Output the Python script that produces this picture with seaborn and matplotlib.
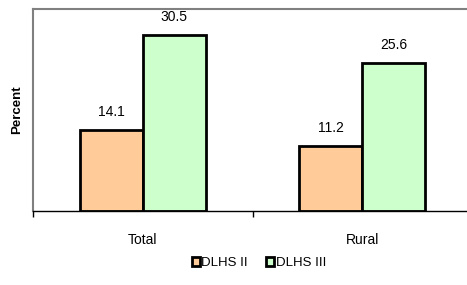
import pandas as pd
import matplotlib
matplotlib.use('Agg')
import matplotlib.pyplot as plt
import seaborn as sns
from matplotlib.patches import Patch

# Dados
areas = ['Total', 'Rural']
surveys = ['DLHS II', 'DLHS III']
dlhs2 = [14.1, 11.2]
dlhs3 = [30.5, 25.6]
colors = ['#FFCC99', '#CCFFCC']

df = pd.DataFrame({
    'area': areas * 2,
    'survey': [surveys[0]] * len(areas) + [surveys[1]] * len(areas),
    'pct': dlhs2 + dlhs3,
})

sns.set_style('white')
plt.rcParams['font.family'] = ['Liberation Sans', 'DejaVu Sans']
plt.rcParams['text.color'] = 'black'
plt.rcParams['axes.labelcolor'] = 'black'
plt.rcParams['xtick.color'] = 'black'

fig = plt.figure(figsize=(4.67, 2.85), dpi=100)
ax = fig.add_axes([33 / 467, 74 / 285, 439 / 467, 202 / 285])

sns.barplot(data=df, x='area', y='pct', hue='survey', palette=colors,
            width=0.573, gap=0, edgecolor='black', linewidth=2,
            saturation=1, legend=False, ax=ax)

ax.set_xlim(-0.5, 1.5)
ax.set_ylim(0, 35)
ax.set_yticks([])
ax.set_xlabel('')
ax.set_ylabel('Percent', fontsize=9.5, fontweight='bold', labelpad=7)

# rótulos nas barras
for container in ax.containers:
    ax.bar_label(container, fmt='%.1f', padding=8, fontsize=10, color='black')

# ticks
ax.set_xticks([0, 1])
ax.set_xticklabels(areas, fontsize=10)
ax.tick_params(axis='x', which='major', length=0, pad=16)
ax.set_xticks([-0.5, 0.5, 1.5], minor=True)
ax.tick_params(axis='x', which='minor', bottom=True, length=4, width=1,
               color='black', direction='out')

for side in ['left', 'top', 'right']:
    ax.spines[side].set_color('#808080')
    ax.spines[side].set_linewidth(1.5)
ax.spines['bottom'].set_color('black')
ax.spines['bottom'].set_linewidth(1)

handles = [Patch(facecolor=c, edgecolor='black', linewidth=2) for c in colors]
fig.legend(handles, surveys, loc='center', bbox_to_anchor=(259 / 467, 22 / 285),
           ncol=2, frameon=False, fontsize=9.5, handlelength=0.6, handleheight=0.6,
           handletextpad=0.1, columnspacing=1.4)

plt.savefig('out.png', dpi=100)
